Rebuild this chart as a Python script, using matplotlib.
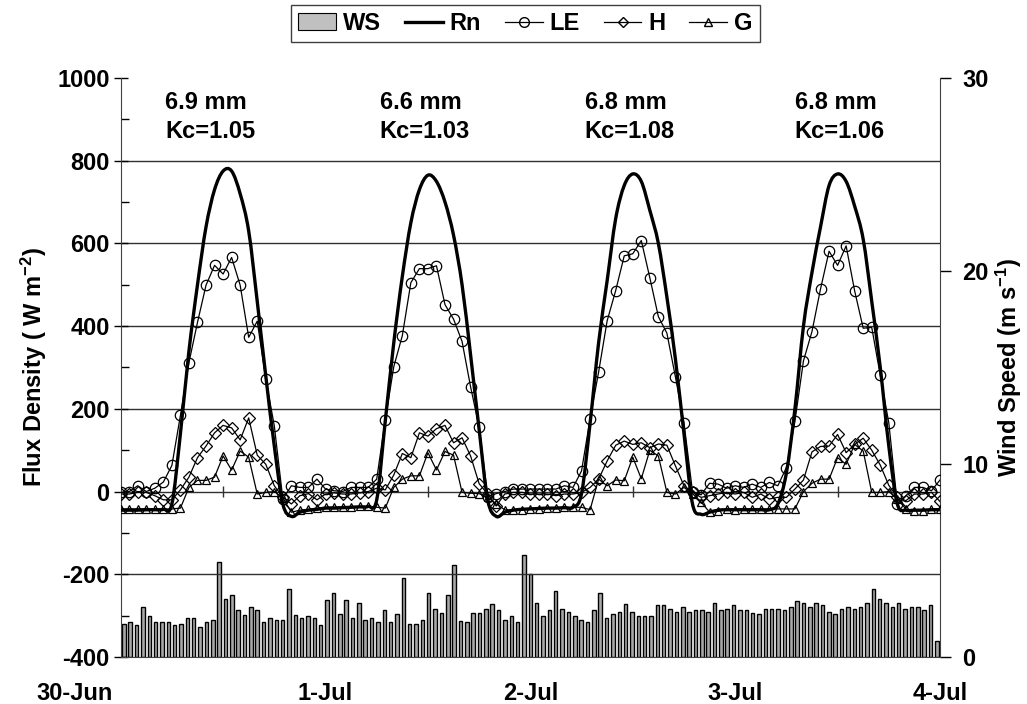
import numpy as np
import matplotlib
matplotlib.use('Agg')
import matplotlib.pyplot as plt
import matplotlib.transforms as mtransforms
from matplotlib.patches import Patch, PathPatch
from matplotlib.lines import Line2D
from matplotlib.path import Path

plt.rcParams['font.family'] = ['Liberation Sans', 'DejaVu Sans']
plt.rcParams['font.weight'] = 'bold'
plt.rcParams['axes.unicode_minus'] = False
plt.rcParams['mathtext.fontset'] = 'custom'
plt.rcParams['mathtext.rm'] = 'Liberation Sans:bold'
plt.rcParams['mathtext.it'] = 'Liberation Sans:bold'
plt.rcParams['mathtext.bf'] = 'Liberation Sans:bold'

day_labels = ['30-Jun', '1-Jul', '2-Jul', '3-Jul', '4-Jul']

# hourly fluxes (W m-2), 30-Jun 00:00 .. 4-Jul 00:00
rn = [-45, -45, -45, -44, -44, -43, -30, 140, 340, 500, 640, 730, 775, 775, 720, 630, 460, 280, 110, -30, -60, -50, -45, -43,
      -40, -40, -39, -38, -37, -36, -20, 170, 360, 520, 650, 730, 765, 750, 700, 620, 500, 330, 150, -20, -60, -50, -45, -43,
      -42, -41, -40, -40, -39, -38, -5, 165, 360, 510, 660, 740, 768, 750, 680, 600, 470, 320, 140, -30, -55, -50, -45, -44,
      -44, -44, -44, -44, -44, -30, 45, 200, 400, 530, 640, 740, 768, 750, 690, 610, 460, 300, 110, -30, -45, -45, -45, -44, -44]
le = [-2, 0, 14, 0, 8, 23, 63, 184, 312, 409, 499, 547, 526, 566, 499, 373, 412, 272, 159, -18, 14, 10, 10, 30,
      6, 2, 0, 10, 10, 10, 30, 173, 302, 377, 505, 539, 539, 546, 452, 417, 363, 253, 156, -12, -5, 0, 6, 6,
      6, 6, 6, 6, 14, 10, 50, 176, 289, 413, 486, 570, 575, 607, 517, 423, 383, 277, 166, 0, -8, 20, 18, 8,
      14, 10, 18, 10, 22, 14, 58, 170, 316, 387, 490, 581, 547, 594, 485, 395, 397, 281, 166, -30, -10, 10, 10, 2, 28]
h = [-6, -6, -2, -2, -10, -20, -20, 4, 35, 82, 110, 142, 160, 154, 125, 178, 88, 66, 14, -14, -30, -10, -5, -20,
     -6, -3, -6, -6, -3, 0, 8, 4, 40, 92, 82, 142, 134, 152, 160, 118, 130, 86, 19, -6, -35, -6, -2, -2,
     -6, -6, -6, -10, -6, -6, -2, 10, 30, 74, 112, 122, 114, 118, 106, 115, 112, 62, 14, -2, -14, -10, -6, -2,
     -6, -2, -14, -6, -18, -14, -14, 6, 28, 96, 109, 110, 138, 94, 114, 129, 100, 64, 15, -14, -22, -6, -6, -2, -24]
g = [-42, -42, -42, -42, -42, -42, -42, -40, 10, 27, 27, 35, 86, 52, 98, 83, -6, -2, 0, -15, -50, -45, -43, -40,
     -38, -38, -37, -37, -36, -36, -38, -40, 10, 30, 38, 38, 94, 52, 97, 88, -2, -4, -5, -14, -30, -44, -45, -44,
     -42, -41, -40, -39, -38, -38, -38, -44, 30, 14, 28, 26, 83, 31, 100, 86, -2, -6, 10, -5, -25, -50, -48, -42,
     -44, -42, -42, -42, -42, -42, -42, -42, 0, 20, 30, 30, 82, 66, 114, 98, -2, -2, 0, -18, -42, -46, -46, -42, -42]

# wind speed (m s-1)
ws = [1.72, 1.82, 1.65, 2.61, 2.13, 1.82, 1.82, 1.82, 1.65, 1.72, 2.03, 2.04, 1.55, 1.82, 1.91, 4.91, 3.02,
      3.20, 2.42, 2.20, 2.61, 2.42, 1.82, 2.04, 1.91, 1.91, 3.54, 2.20, 2.04, 2.13, 2.04, 1.65, 2.94,
      3.32, 2.22, 2.94, 2.03, 2.82, 1.89, 2.04, 1.82, 2.42, 1.82, 2.22, 4.11, 1.72, 1.72, 1.91, 3.32,
      2.51, 2.29, 3.20, 4.79, 1.87, 1.79, 2.29, 2.29, 2.51, 2.72, 2.41, 1.89, 2.13, 1.81, 5.29, 4.31, 2.80,
      2.13, 2.42, 3.42, 2.51, 2.34, 2.13, 1.89, 1.82, 2.42, 3.32, 2.04, 2.22, 2.34, 2.72, 2.34, 2.13, 2.13,
      2.11, 2.71, 2.71, 2.51, 2.34, 2.59, 2.32, 2.42, 2.42, 2.32, 2.80,
      2.42, 2.51, 2.71, 2.42, 2.42, 2.30, 2.22, 2.51, 2.51, 2.51, 2.42, 2.61, 2.92, 2.82, 2.61, 2.82, 2.71,
      2.32, 2.22, 2.51, 2.61, 2.51, 2.61, 2.82, 3.51, 3.02, 2.82, 2.61, 2.82, 2.51, 2.61, 2.61, 2.42, 2.71, 0.82]

et_text = ['6.9 mm\nKc=1.05', '6.6 mm\nKc=1.03', '6.8 mm\nKc=1.08', '6.8 mm\nKc=1.06']
text_x = [0.216, 1.265, 2.265, 3.29]

FS = 17


def smooth_path(x, y):
    # Excel-style smoothed line: Bezier segments through the data points
    p = np.column_stack([x, y]).astype(float)
    ext = np.vstack([p[0], p, p[-1]])
    verts = [p[0]]
    codes = [Path.MOVETO]
    for i in range(len(p) - 1):
        p0, p1, p2, p3 = ext[i], ext[i + 1], ext[i + 2], ext[i + 3]
        verts += [p1 + (p2 - p0) / 6.0, p2 - (p3 - p1) / 6.0, p2]
        codes += [Path.CURVE4] * 3
    return Path(verts, codes)


n_days = len(day_labels) - 1
t = np.arange(len(rn)) / 24.0
n_ws = len(ws)
ws_x = (np.arange(n_ws) + 0.5) * n_days / n_ws

fig = plt.figure(figsize=(10.27, 7.04), dpi=100)
ax = fig.add_axes([0.1175, 0.0668, 0.7978, 0.8224])
ax2 = ax.twinx()

# wind speed bars on the right axis
ax2.bar(ws_x, ws, width=0.55 * n_days / n_ws, color='#a8a8a8', edgecolor='black', linewidth=1.0)
ax2.set_ylim(0, 30)
ax2.set_yticks([0, 10, 20, 30])
ax2.tick_params(axis='y', direction='out', length=8, width=1, labelsize=FS, pad=8)
ax2.set_ylabel('Wind Speed (m s$^{-1}$)', fontsize=FS, fontweight='bold', labelpad=4)
for s in ['top', 'left', 'bottom']:
    ax2.spines[s].set_visible(False)
ax2.spines['right'].set_color('#404040')

ax.set_zorder(ax2.get_zorder() + 1)
ax.patch.set_visible(False)

ax.set_xlim(0, n_days)
ax.set_ylim(-400, 1000)
yt = np.arange(-400, 1001, 200)
ax.set_yticks(yt)
ax.set_yticks(np.arange(-300, 1000, 200), minor=True)
for y in yt[1:-1]:
    ax.axhline(y, color='#303030', lw=1, zorder=1)
ax.tick_params(axis='y', which='major', direction='inout', length=10, width=1, labelsize=FS, pad=3)
ax.tick_params(axis='y', which='minor', direction='in', length=6, width=1)
ax.set_xticks(np.arange(n_days + 1))
ax.set_xticklabels(day_labels)
ax.tick_params(axis='x', length=0, labelsize=FS, pad=18)
first = ax.get_xticklabels()[0]
first.set_ha('right')
first.set_transform(first.get_transform() + mtransforms.ScaledTranslation(-8 / 100, 0, fig.dpi_scale_trans))
ax.spines['top'].set_visible(False)
ax.spines['right'].set_visible(False)
ax.spines['left'].set_color('#404040')
ax.spines['bottom'].set_color('#404040')
ax.set_ylabel('Flux Density ( W m$^{-2}$)', fontsize=FS, fontweight='bold', labelpad=6)

# small ticks on the zero line at midday
ax.vlines(np.arange(n_days) + 0.5, -14, 14, color='#303030', lw=1, zorder=1)

ax.add_patch(PathPatch(smooth_path(t, rn), facecolor='none', edgecolor='black', lw=2.4, zorder=5))
ax.plot(t, le, color='black', lw=0.9, marker='o', ms=7.5, mfc='none', mec='black', mew=0.9, zorder=4)
ax.plot(t, h, color='black', lw=0.9, marker='D', ms=6, mfc='none', mec='black', mew=0.9, zorder=4)
ax.plot(t, g, color='black', lw=0.9, marker='^', ms=5.5, mfc='none', mec='black', mew=0.9, zorder=4)

for x, s in zip(text_x, et_text):
    ax.text(x, 905, s, ha='left', va='center', fontsize=FS, fontweight='bold', linespacing=1.35)

handles = [Patch(facecolor='#c0c0c0', edgecolor='black', lw=0.8),
           Line2D([], [], color='black', lw=2.4),
           Line2D([], [], color='black', lw=0.9, marker='o', ms=7, mfc='none'),
           Line2D([], [], color='black', lw=0.9, marker='D', ms=5.5, mfc='none'),
           Line2D([], [], color='black', lw=0.9, marker='^', ms=5.5, mfc='none')]
leg = fig.legend(handles, ['WS', 'Rn', 'LE', 'H', 'G'], loc='center', bbox_to_anchor=(0.5117, 0.9666),
                 ncol=5, fancybox=False, edgecolor='#404040', framealpha=1, fontsize=FS,
                 handlelength=1.6, handletextpad=0.3, columnspacing=1.0, borderpad=0.3)
leg.get_frame().set_linewidth(1)

fig.savefig('out.png', dpi=100)
